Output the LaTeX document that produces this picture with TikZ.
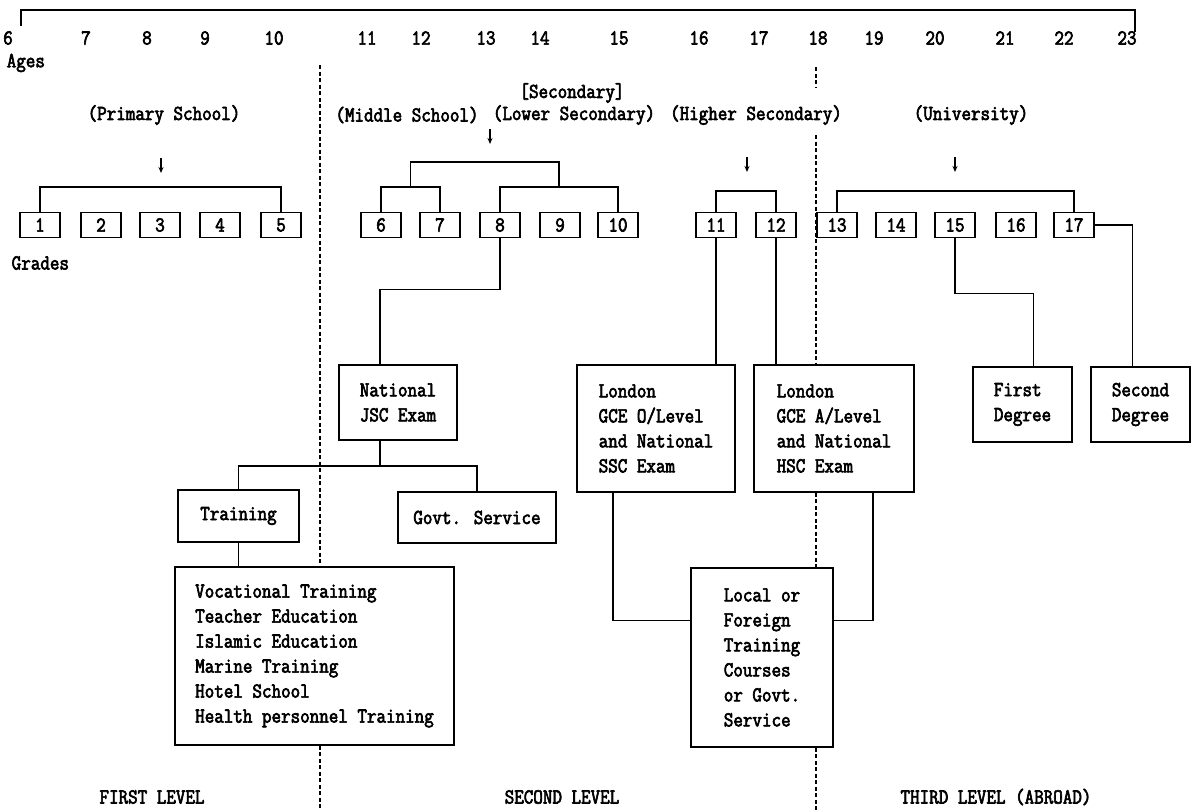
\documentclass[tikz,border=0pt]{standalone}
\usepackage{fontspec}
\newfontfamily\scanfont{Latin Modern Mono}[FakeStretch=0.87, FakeBold=3]
\usetikzlibrary{arrows.meta, calc}

\begin{document}
\begin{tikzpicture}[x=1pt, y=-1pt, line width=1.5pt,
	every node/.style={font=\scanfont\fontsize{21.3}{25}\selectfont},
	grade/.style={draw, minimum width=40pt, minimum height=25pt, inner sep=0pt},
	panel/.style={draw, align=left, inner sep=0pt},
	lbl/.style={inner sep=0pt},
	levelline/.style={line width=1.7pt, dash pattern=on 4pt off 2.5pt},
	downarr/.style={line width=1.3pt, -{Stealth[length=6pt, width=5pt]}}]
	\useasboundingbox (0,0) rectangle (1192,811);

	\coordinate (axl) at (21,10);
	\coordinate (axr) at (1135,10);
	\draw[line width=1.2pt] ([yshift=-16pt]axl) -- (axl) -- (axr) -- ([yshift=-22pt]axr);
	\foreach \a/\xa in {6/8, 7/86, 8/147, 9/205, 10/274, 11/367, 12/421, 13/486, 14/540, 15/619, 16/699, 17/759, 18/818, 19/874, 20/935, 21/1005, 22/1064, 23/1127}
		\node[lbl] (age\a) at (\xa,38) {\a};
	\node[lbl, anchor=west] (ages) at (6,63) {Ages};

	\node[lbl] (sec) at (572,93) {[Secondary]};
	\node[lbl] (prim) at (164,115) {(Primary School)};
	\node[lbl] (mid) at (407,115) {(Middle School)};
	\node[lbl] (lowsec) at (574,115) {(Lower Secondary)};
	\node[lbl] (highsec) at (756,115) {(Higher Secondary)};
	\node[lbl] (univ) at (971,115) {(University)};

	\foreach \n/\xa/\ya in {p/161/158, m/490/129, h/747/157, u/955/157} {
		\coordinate (arr\n) at (\xa,\ya);
		\draw[downarr] (arr\n) -- ++(0,15);
	}

	\foreach \g/\xg in {1/40, 2/101, 3/160, 4/220, 5/281, 6/381, 7/440, 8/500, 9/560, 10/618, 11/716, 12/776, 13/837, 14/896, 15/955, 16/1016, 17/1074}
		\node[grade] (g\g) at (\xg,225) {\g};
	\node[lbl, anchor=west] (grades) at (11,263) {Grades};

	\draw (g1.north) -- ++(0,-25) -| (g5.north);
	\draw (g6.north) -- ++(0,-25) -| (g7.north);
	\draw (g8.north) -- ++(0,-25) -| (g10.north);
	\draw ($(g6.north)!.5!(g7.north)+(0,-25)$) -- ++(0,-25) -| ($(g8.north)!.5!(g10.north)+(0,-25)$);
	\draw (g11.north) -- ++(0,-21) -| (g12.north);
	\draw (g13.north) -- ++(0,-21) -| (g17.north);

	\node[panel, minimum width=118pt, minimum height=75pt] (jsc) at (398,402.5) {National\\JSC Exam};
	\node[panel, minimum width=158pt, minimum height=127pt] (lono) at (656,428.5) {London\\GCE O/Level\\and National\\SSC Exam};
	\node[panel, minimum width=160pt, minimum height=127pt] (lona) at (834,428.5) {London\\GCE A/Level\\and National\\HSC Exam};
	\node[panel, minimum width=99pt, minimum height=75pt] (first) at (1022.5,404.5) {First\\Degree};
	\node[panel, minimum width=99pt, minimum height=75pt] (second) at (1140.5,404.5) {Second\\Degree};
	\node[panel, minimum width=121pt, minimum height=52pt] (train) at (238.5,516) {Training};
	\node[panel, minimum width=158pt, minimum height=51pt] (govt) at (477,517.5) {Govt. Service};
	\node[panel, minimum width=279pt, minimum height=178pt] (voc) at (314.5,656) {Vocational Training\\Teacher Education\\Islamic Education\\Marine Training\\Hotel School\\Health personnel Training};
	\node[panel, minimum width=142pt, minimum height=179pt] (local) at (762,657.5) {Local or\\Foreign\\Training\\Courses\\or Govt.\\Service};

	\draw (g8.south) -- ++(0,51) -| ([xshift=-18pt]jsc.north);
	\draw ([xshift=-18pt]jsc.south) -- ++(0,25) coordinate (jsplit);
	\draw (train.north) |- (jsplit) -| (govt.north);
	\draw (train.south) -- (voc.north -| train.south);
	\draw (g11.south) -- (g11.south |- lono.north);
	\draw (g12.south) -- (g12.south |- lona.north);
	\draw ([xshift=-43pt]lono.south) |- ([yshift=37pt]local.west);
	\draw ([xshift=39pt]lona.south) |- ([yshift=37pt]local.east);
	\draw (g15.south) -- ++(0,55) -| ([xshift=11pt]first.north);
	\draw (g17.east) -| ([xshift=-8pt]second.north);

	\coordinate (d1) at (320,65);
	\draw[levelline] (d1) -- (d1 |- voc.north);
	\draw[levelline] (d1 |- voc.south) -- (320,811);
	\coordinate (d2) at (816,67);
	\draw[levelline] (d2) -- (816,88);
	\draw[levelline] (816,135) -- (d2 |- lona.north);
	\draw[levelline] (d2 |- lona.south) -- (d2 |- local.north);
	\draw[levelline] (d2 |- local.south) -- (816,811);

	\node[lbl] (firstlvl) at (152,797) {FIRST LEVEL};
	\node[lbl] (secondlvl) at (562,797) {SECOND LEVEL};
	\node[lbl] (thirdlvl) at (996,797) {THIRD LEVEL (ABROAD)};
\end{tikzpicture}
\end{document}
